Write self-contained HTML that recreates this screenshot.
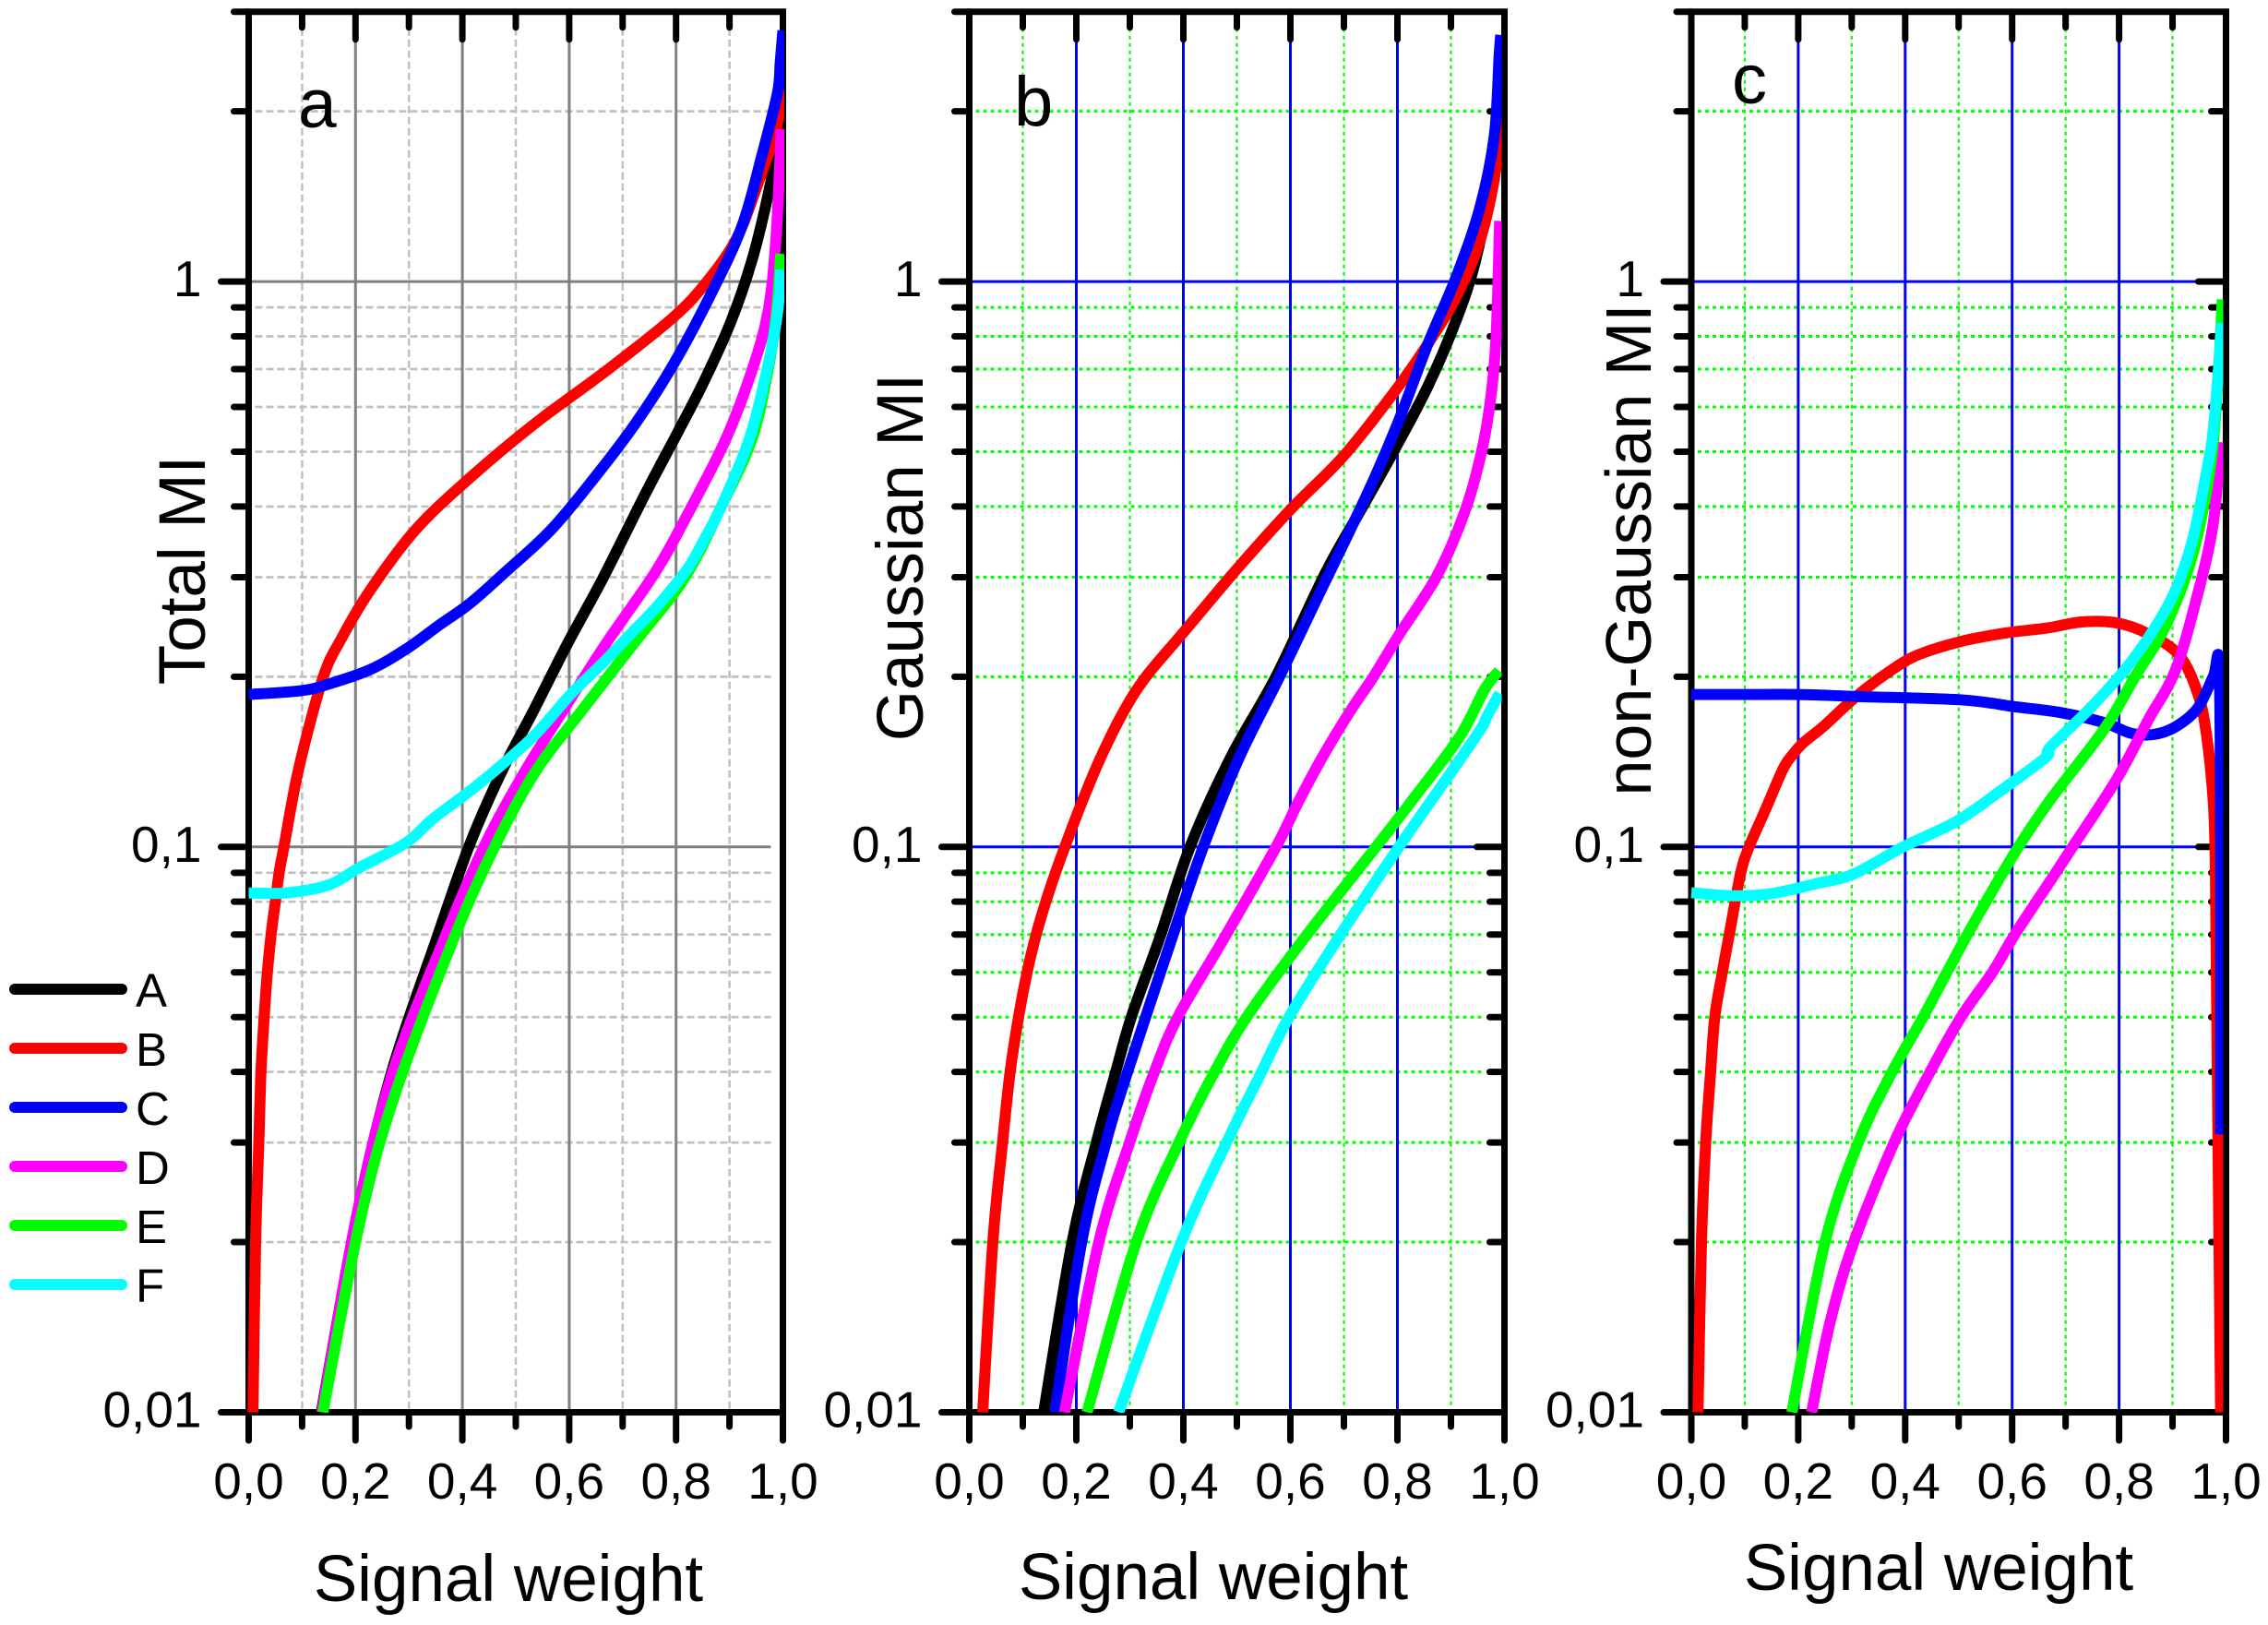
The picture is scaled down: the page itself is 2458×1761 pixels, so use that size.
<!DOCTYPE html>
<html lang="en">
<head>
<meta charset="utf-8">
<title>Total, Gaussian and non-Gaussian MI versus signal weight</title>
<style>
html,body{margin:0;padding:0;background:#fff;}
svg{display:block;}
text{font-family:"Liberation Sans",Arial,sans-serif;fill:#000;}
</style>
</head>
<body>
<svg id="chart" xmlns="http://www.w3.org/2000/svg" width="2458" height="1761" viewBox="0 0 2458 1761">
  <rect width="2458" height="1761" fill="#fff"/>
  <g id="panels"></g>

  <text x="323" y="138" font-size="75">a</text>
  <text x="1099" y="136" font-size="76">b</text>
  <text x="1877" y="112" font-size="76">c</text>

  <text font-size="71" text-anchor="middle" transform="translate(222 618) rotate(-90)">Total MI</text>
  <text font-size="71" text-anchor="middle" transform="translate(1000 604) rotate(-90)">Gaussian MI</text>
  <text font-size="70" text-anchor="middle" transform="translate(1789 596) rotate(-90)">non-Gaussian MI</text>

  <text font-size="71" text-anchor="middle" x="551" y="1735">Signal weight</text>
  <text font-size="71" text-anchor="middle" x="1315" y="1733">Signal weight</text>
  <text font-size="71" text-anchor="middle" x="2101" y="1723">Signal weight</text>

  <g stroke-width="12" stroke-linecap="round" font-size="51">
    <line x1="16" x2="132" y1="1072" y2="1072" stroke="#000000"/>
    <text x="147" y="1091">A</text>
    <line x1="16" x2="132" y1="1136" y2="1136" stroke="#ff0000"/>
    <text x="147" y="1155">B</text>
    <line x1="16" x2="132" y1="1200" y2="1200" stroke="#0000ff"/>
    <text x="147" y="1219">C</text>
    <line x1="16" x2="132" y1="1264" y2="1264" stroke="#ff00ff"/>
    <text x="147" y="1283">D</text>
    <line x1="16" x2="132" y1="1328" y2="1328" stroke="#00ff00"/>
    <text x="147" y="1347">E</text>
    <line x1="16" x2="132" y1="1392" y2="1392" stroke="#00ffff"/>
    <text x="147" y="1411">F</text>
  </g>
</svg>

<script>
// Axis tick values and labels
const xMajorValues = [0, 0.2, 0.4, 0.6, 0.8, 1];
const xMinorValues = [0.1, 0.3, 0.5, 0.7, 0.9];
const xTickLabels = ['0,0', '0,2', '0,4', '0,6', '0,8', '1,0'];
const yMajorValues = [0.01, 0.1, 1];
const yMinorValues = [0.02, 0.03, 0.04, 0.05, 0.06, 0.07, 0.08, 0.09, 0.2, 0.3, 0.4, 0.5, 0.6, 0.7, 0.8, 0.9, 2, 3];
const yTickLabels = ['0,01', '0,1', '1'];

// Panel a: Total MI
const aAx = [0.136, 0.203, 0.268, 0.352, 0.4125, 0.473, 0.533, 0.597, 0.663, 0.744, 0.804, 0.853, 0.903, 0.942, 0.972, 0.988, 0.997];
const aAy = [0.01, 0.0224, 0.0401, 0.0689, 0.1003, 0.1355, 0.174, 0.229, 0.2986, 0.424, 0.543, 0.668, 0.851, 1.09, 1.42, 1.72, 2.18];
const aBx = [0.008, 0.013, 0.019, 0.023, 0.029, 0.035, 0.042, 0.05, 0.057, 0.066, 0.094, 0.139, 0.174, 0.228, 0.3125, 0.417, 0.536, 0.67, 0.794, 0.858, 0.913, 0.952, 0.986, 1];
const aBy = [0.01, 0.02, 0.03, 0.04, 0.05, 0.06, 0.07, 0.08, 0.09, 0.1, 0.138, 0.199, 0.234, 0.285, 0.364, 0.452, 0.561, 0.696, 0.863, 1, 1.19, 1.48, 1.84, 2.18];
const aCx = [0, 0.099, 0.149, 0.228, 0.2945, 0.358, 0.415, 0.48, 0.565, 0.645, 0.724, 0.794, 0.863, 0.923, 0.962, 0.99, 0.995, 1];
const aCy = [0.186, 0.189, 0.194, 0.206, 0.2238, 0.2473, 0.27, 0.306, 0.363, 0.447, 0.561, 0.711, 0.941, 1.25, 1.69, 2.16, 2.44, 2.78];
const aDx = [0.137, 0.2, 0.268, 0.3665, 0.441, 0.516, 0.588, 0.669, 0.761, 0.82, 0.893, 0.942, 0.972, 0.987, 0.997];
const aDy = [0.01, 0.0217, 0.0395, 0.0689, 0.1003, 0.1355, 0.174, 0.229, 0.306, 0.385, 0.526, 0.696, 0.883, 1.19, 1.86];
const aEx = [0.139, 0.208, 0.273, 0.384, 0.461, 0.536, 0.623, 0.721, 0.8155, 0.883, 0.942, 0.972, 0.987, 0.996];
const aEy = [0.01, 0.0217, 0.0363, 0.0689, 0.1003, 0.1355, 0.174, 0.229, 0.2986, 0.397, 0.526, 0.696, 0.863, 1.12];
const aFx = [0, 0.069, 0.149, 0.208, 0.2945, 0.346, 0.421, 0.49, 0.542, 0.6025, 0.666, 0.715, 0.767, 0.821, 0.853, 0.883, 0.937, 0.972, 0.99, 0.996];
const aFy = [0.0829, 0.0829, 0.0856, 0.092, 0.1017, 0.1123, 0.127, 0.144, 0.16, 0.186, 0.213, 0.238, 0.268, 0.31, 0.35, 0.397, 0.526, 0.711, 0.883, 1.05];

// Panel b: Gaussian MI
const bAx = [0.139, 0.192, 0.237, 0.273, 0.303, 0.3555, 0.413, 0.489, 0.573, 0.666, 0.734, 0.796, 0.857, 0.91, 0.945, 0.972, 0.989];
const bAy = [0.01, 0.02, 0.0299, 0.0398, 0.0501, 0.0689, 0.1003, 0.1443, 0.2, 0.306, 0.398, 0.507, 0.653, 0.855, 1.08, 1.46, 2.03];
const bBx = [0.025, 0.044, 0.062, 0.076, 0.092, 0.108, 0.125, 0.143, 0.161, 0.1785, 0.21, 0.246, 0.289, 0.33, 0.4, 0.5, 0.6, 0.7, 0.796, 0.857, 0.91, 0.954, 0.981, 0.994];
const bBy = [0.01, 0.02, 0.0299, 0.0398, 0.05, 0.06, 0.07, 0.08, 0.09, 0.1, 0.1197, 0.1443, 0.174, 0.1999, 0.2395, 0.31, 0.395, 0.492, 0.641, 0.776, 0.94, 1.18, 1.52, 1.95];
const bCx = [0.16, 0.21, 0.255, 0.295, 0.3785, 0.4377, 0.505, 0.5796, 0.6457, 0.743, 0.8, 0.857, 0.91, 0.954, 0.981, 0.99, 0.993];
const bCy = [0.01, 0.02, 0.0299, 0.0398, 0.0689, 0.1003, 0.1443, 0.1999, 0.27, 0.42, 0.56, 0.776, 1.02, 1.35, 1.81, 2.5, 2.73];
const bDx = [0.178, 0.242, 0.299, 0.345, 0.39, 0.476, 0.574, 0.614, 0.66, 0.712, 0.755, 0.804, 0.875, 0.928, 0.959, 0.976, 0.985, 0.991];
const bDy = [0.01, 0.02, 0.0299, 0.0398, 0.0501, 0.0689, 0.1003, 0.1197, 0.1443, 0.174, 0.1999, 0.238, 0.303, 0.397, 0.509, 0.641, 0.822, 1.28];
const bEx = [0.22, 0.312, 0.391, 0.457, 0.519, 0.6256, 0.76, 0.824, 0.915, 0.963, 0.99];
const bEy = [0.01, 0.02, 0.0299, 0.0398, 0.0501, 0.0689, 0.1, 0.1197, 0.156, 0.19, 0.205];
const bFx = [0.279, 0.396, 0.48, 0.545, 0.598, 0.689, 0.8038, 0.945, 0.967, 0.991];
const bFy = [0.01, 0.02, 0.0299, 0.0398, 0.0501, 0.0689, 0.1003, 0.156, 0.17, 0.187];

// Panel c: non-Gaussian MI (series A is not plotted separately in this panel)
const cBx = [0.0125, 0.019, 0.027, 0.036, 0.044, 0.058, 0.071, 0.092, 0.108, 0.138, 0.171, 0.188, 0.21, 0.246, 0.304, 0.363, 0.421, 0.505, 0.588, 0.667, 0.73, 0.796, 0.855, 0.913, 0.947, 0.963, 0.976, 0.98, 0.982, 0.985, 0.99];
const cBy = [0.01, 0.02, 0.0301, 0.0399, 0.0501, 0.06, 0.07, 0.0896, 0.1, 0.116, 0.137, 0.145, 0.153, 0.163, 0.183, 0.202, 0.218, 0.231, 0.239, 0.244, 0.25, 0.249, 0.238, 0.218, 0.187, 0.159, 0.121, 0.094, 0.06, 0.03, 0.01];
const cCx = [0, 0.104, 0.2, 0.313, 0.505, 0.605, 0.688, 0.771, 0.821, 0.863, 0.905, 0.947, 0.976, 0.987, 0.99, 0.99];
const cCy = [0.186, 0.186, 0.186, 0.1845, 0.182, 0.177, 0.173, 0.166, 0.159, 0.158, 0.163, 0.176, 0.2, 0.209, 0.1, 0.031];
const cDx = [0.225, 0.26, 0.304, 0.38, 0.446, 0.505, 0.563, 0.605, 0.68, 0.713, 0.796, 0.855, 0.905, 0.947, 0.976, 0.99];
const cDy = [0.01, 0.0145, 0.02, 0.0301, 0.0399, 0.0501, 0.06, 0.07, 0.0896, 0.1, 0.132, 0.168, 0.205, 0.28, 0.373, 0.52];
const cEx = [0.188, 0.25, 0.313, 0.375, 0.434, 0.478, 0.525, 0.605, 0.671, 0.771, 0.83, 0.888, 0.938, 0.972, 0.986, 0.993];
const cEy = [0.01, 0.02, 0.0301, 0.0399, 0.0501, 0.06, 0.0724, 0.0977, 0.121, 0.161, 0.2, 0.247, 0.33, 0.48, 0.7, 0.93];
const cFx = [0, 0.071, 0.146, 0.238, 0.304, 0.396, 0.496, 0.58, 0.663, 0.671, 0.746, 0.813, 0.863, 0.905, 0.938, 0.967, 0.976, 0.986, 0.992];
const cFy = [0.083, 0.082, 0.0826, 0.0863, 0.0896, 0.1, 0.111, 0.126, 0.144, 0.15, 0.176, 0.207, 0.241, 0.284, 0.351, 0.48, 0.545, 0.7, 0.845];

const NS = 'http://www.w3.org/2000/svg';
const YBOTTOM = 1530.5;
const DECADE = 612.7;

function svgEl(parent, tag, attrs) {
  const el = document.createElementNS(NS, tag);
  for (const k in attrs) el.setAttribute(k, attrs[k]);
  parent.appendChild(el);
  return el;
}
function smoothPath(pts) {
  let d = 'M' + pts[0][0].toFixed(2) + ' ' + pts[0][1].toFixed(2);
  for (let i = 0; i < pts.length - 1; i++) {
    const p0 = pts[Math.max(i - 1, 0)], p1 = pts[i], p2 = pts[i + 1], p3 = pts[Math.min(i + 2, pts.length - 1)];
    const c1x = p1[0] + (p2[0] - p0[0]) / 6, c1y = p1[1] + (p2[1] - p0[1]) / 6;
    const c2x = p2[0] - (p3[0] - p1[0]) / 6, c2y = p2[1] - (p3[1] - p1[1]) / 6;
    d += 'C' + c1x.toFixed(2) + ' ' + c1y.toFixed(2) + ' ' + c2x.toFixed(2) + ' ' + c2y.toFixed(2) + ' ' + p2[0].toFixed(2) + ' ' + p2[1].toFixed(2);
  }
  return d;
}

function drawPanel(id, x0, x1, style, series) {
  const root = document.getElementById('panels');
  const g = svgEl(root, 'g', {});
  
  
  const xs = v => x0 + (x1 - x0) * v;
  const ys = v => YBOTTOM - (Math.log10(v) + 2) * DECADE;
  const YTOP = ys(3);
  const gridEnd = x1 - (style.rightTicks ? 21 : 13);
  const majorEnd = x1 - (style.rightTicks ? 31 : 13);

  // minor grid
  const minorGrid = svgEl(g, 'g', { stroke: style.minorColor, 'stroke-dasharray': style.dash, fill: 'none' });
  
  
  xMinorValues.forEach(v => {
    const line = svgEl(minorGrid, 'line', { x1: xs(v), x2: xs(v), y1: YTOP + 18, y2: YBOTTOM - 4, 'stroke-width': style.minorWidthV });
    
    
  });
  yMinorValues.filter(v => v < 3).forEach(v => {
    const line = svgEl(minorGrid, 'line', { x1: x0 + 7, x2: gridEnd, y1: ys(v), y2: ys(v), 'stroke-width': style.minorWidthH });
    
    
  });

  // major grid
  const majorGrid = svgEl(g, 'g', { stroke: style.majorColor, 'stroke-width': 3, fill: 'none' });
  
  
  xMajorValues.slice(1, -1).forEach(v => {
    const line = svgEl(majorGrid, 'line', { x1: xs(v), x2: xs(v), y1: YTOP + 30, y2: YBOTTOM });
    
    
  });
  yMajorValues.slice(1).forEach(v => {
    const line = svgEl(majorGrid, 'line', { x1: x0, x2: majorEnd, y1: ys(v), y2: ys(v) });
    
    
  });

  // axes and ticks
  const axes = svgEl(g, 'g', { stroke: '#000', 'stroke-width': 7, 'stroke-linecap': 'round', fill: 'none' });
  
  
  xMajorValues.forEach(v => {
    const bottomTick = svgEl(axes, 'line', { x1: xs(v), x2: xs(v), y1: YBOTTOM, y2: 1561 });
    
    
    const topTick = svgEl(axes, 'line', { x1: xs(v), x2: xs(v), y1: YTOP, y2: YTOP + 30 });
    
    
  });
  xMinorValues.forEach(v => {
    const bottomTick = svgEl(axes, 'line', { x1: xs(v), x2: xs(v), y1: YBOTTOM, y2: 1546 });
    
    
    const topTick = svgEl(axes, 'line', { x1: xs(v), x2: xs(v), y1: YTOP, y2: YTOP + 17 });
    
    
  });
  yMajorValues.forEach(v => {
    const leftTick = svgEl(axes, 'line', { x1: x0 - 30, x2: x0, y1: ys(v), y2: ys(v) });
    
    
    if (style.rightTicks && v > 0.01) {
      const rightTick = svgEl(axes, 'line', { x1: x1 - 30, x2: x1, y1: ys(v), y2: ys(v) });
      
      
    }
  });
  yMinorValues.forEach(v => {
    const leftTick = svgEl(axes, 'line', { x1: x0 - 16, x2: x0, y1: ys(v), y2: ys(v) });
    
    
    if (style.rightTicks && v < 3) {
      const rightTick = svgEl(axes, 'line', { x1: x1 - 16, x2: x1, y1: ys(v), y2: ys(v) });
      
      
    }
  });
  const frame = svgEl(axes, 'path', { d: 'M' + x0 + ' ' + YBOTTOM + 'V' + YTOP + 'H' + x1 + 'V' + YBOTTOM + 'Z', 'stroke-linecap': 'butt' });
  
  

  // tick labels
  const labels = svgEl(g, 'g', { 'font-size': 55 });
  
  
  xMajorValues.forEach((v, i) => {
    const t = svgEl(labels, 'text', { x: xs(v), y: 1624, 'text-anchor': 'middle' });
    
    
    t.textContent = xTickLabels[i];
  });
  yMajorValues.forEach((v, i) => {
    const t = svgEl(labels, 'text', { x: x0 - 51, y: ys(v) + 16, 'text-anchor': 'end' });
    
    
    t.textContent = yTickLabels[i];
  });

  // series
  const clipId = 'clip-' + id;
  const defs = svgEl(g, 'defs', {});
  const cp = svgEl(defs, 'clipPath', { id: clipId });
  svgEl(cp, 'rect', { x: x0 - 1, y: 0, width: x1 + style.clipRight - x0 + 1, height: YBOTTOM + 0.5 });
  const curves = svgEl(g, 'g', { fill: 'none', 'stroke-width': 12, 'clip-path': 'url(#' + clipId + ')', 'stroke-linejoin': 'round' });
  
  
  series.forEach(s => {
    const pts = s.x.map((v, i) => [xs(v), ys(s.y[i])]);
    const path = svgEl(curves, 'path', { d: smoothPath(pts), stroke: s.color });
    
    
  });
}

drawPanel('a', 269.5, 848.5,
  { majorColor: '#808080', minorColor: '#c0c0c0', minorWidthH: 2.7, minorWidthV: 2.5, dash: '8 4', rightTicks: false, clipRight: 1.5 },
  [
    { name: 'a', color: '#000000', x: aAx, y: aAy },
    { name: 'b', color: '#ff0000', x: aBx, y: aBy },
    { name: 'c', color: '#0000ff', x: aCx, y: aCy },
    { name: 'd', color: '#ff00ff', x: aDx, y: aDy },
    { name: 'e', color: '#00ff00', x: aEx, y: aEy },
    { name: 'f', color: '#00ffff', x: aFx, y: aFy }
  ]);
drawPanel('b', 1050.5, 1630.5,
  { majorColor: '#0000ff', minorColor: '#00ff00', minorWidthH: 3, minorWidthV: 2.2, dash: '4 4', rightTicks: true, clipRight: -3 },
  [
    { name: 'a', color: '#000000', x: bAx, y: bAy },
    { name: 'b', color: '#ff0000', x: bBx, y: bBy },
    { name: 'c', color: '#0000ff', x: bCx, y: bCy },
    { name: 'd', color: '#ff00ff', x: bDx, y: bDy },
    { name: 'e', color: '#00ff00', x: bEx, y: bEy },
    { name: 'f', color: '#00ffff', x: bFx, y: bFy }
  ]);
drawPanel('c', 1833, 2412.5,
  { majorColor: '#0000ff', minorColor: '#00ff00', minorWidthH: 3, minorWidthV: 2.2, dash: '4 4', rightTicks: true, clipRight: -3 },
  [
    { name: 'b', color: '#ff0000', x: cBx, y: cBy },
    { name: 'c', color: '#0000ff', x: cCx, y: cCy },
    { name: 'd', color: '#ff00ff', x: cDx, y: cDy },
    { name: 'e', color: '#00ff00', x: cEx, y: cEy },
    { name: 'f', color: '#00ffff', x: cFx, y: cFy }
  ]);
</script>
</body>
</html>
